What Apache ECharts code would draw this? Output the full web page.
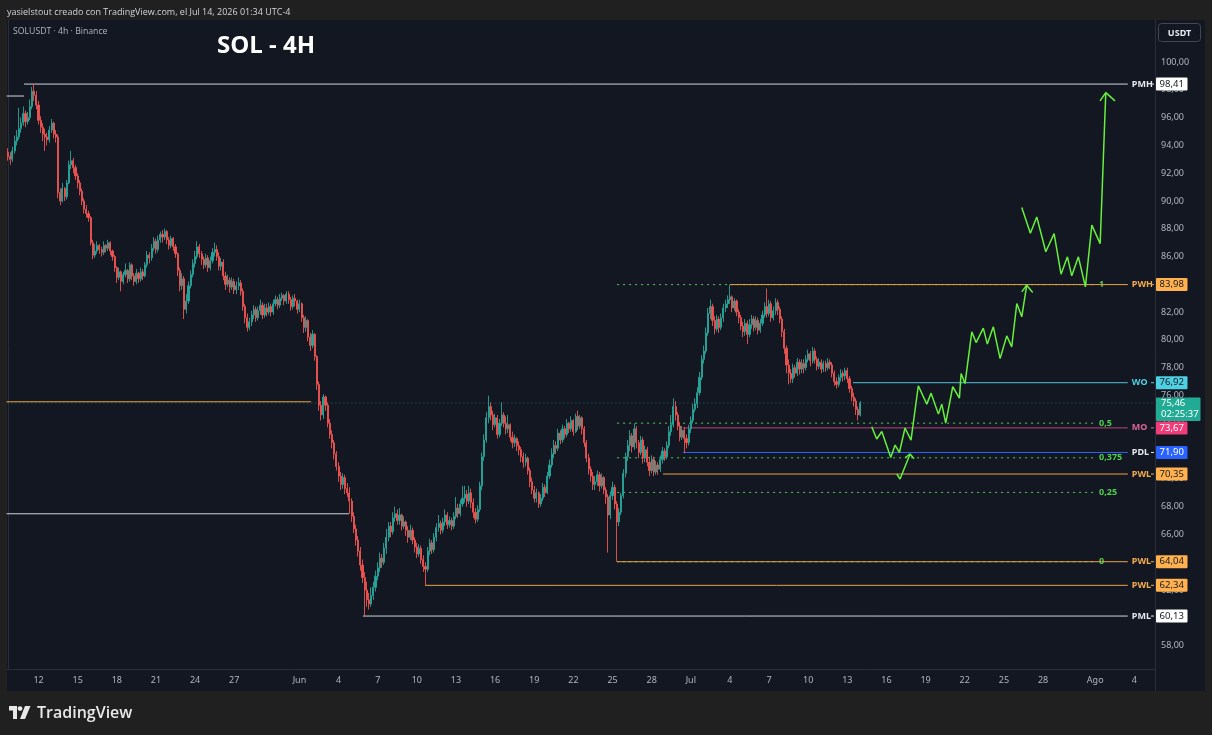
<!DOCTYPE html>
<html>
<head>
<meta charset="utf-8">
<script src="https://cdn.jsdelivr.net/npm/echarts@6.0.0/dist/echarts.min.js"></script>
<style>
html,body{margin:0;padding:0;width:1212px;height:735px;background:#202020;overflow:hidden;}
#panel{position:absolute;left:7px;top:20px;width:1198px;height:671px;background:#131722;}
#chart{position:absolute;left:0;top:0;width:1212px;height:735px;}
.t{position:absolute;white-space:nowrap;font-family:'Open Sans','Noto Sans',sans-serif;}
#hdr{left:7px;top:5px;font-size:9px;color:#d1d4dc;}
#sym{left:13px;top:25px;font-size:8.7px;color:#b2b5be;}
#ttl{left:217px;top:27px;font-size:24px;font-weight:700;color:#ffffff;}
#logo{left:9px;top:701px;font-size:16px;font-weight:600;color:#e8e8e8;display:flex;align-items:center;}
#logo svg{margin-right:6px;}
</style>
</head>
<body>
<div id="panel"></div>
<div id="chart"></div>
<div class="t" id="hdr">yasielstout creado con TradingView.com, el Jul 14, 2026 01:34 UTC-4</div>
<div class="t" id="sym">SOLUSDT · 4h · Binance</div>
<div class="t" id="ttl">SOL - 4H</div>
<div class="t" id="logo"><svg width="22" height="13" viewBox="0 0 22 13"><path d="M0 0h8v13h-4v-8.5h-4z" fill="#e8e8e8"/><circle cx="11" cy="2.6" r="2.4" fill="#e8e8e8"/><path d="M16 0h5.5l-5.5 13h-5z" fill="#e8e8e8"/></svg>TradingView</div>
<script>
// ---------- DATA ----------
// 4h candles, slot 0 = May 9 16:00; day 0 = May 12 00:00 (slot 14)
const firstOpen = 93.5;
const closes = [
93.2,93.0,93.6,94.3,94.6,95.2, 95.6,96.3,95.7,96.0,96.8,97.9, 97.6,96.9,95.8,95.3,94.8,94.6,
94.4,95.1,95.6,94.8,94.6,90.6, 90.0,90.9,90.3,91.3,92.6,92.9, 92.4,91.8,91.3,90.7,90.0,89.4,
89.1,88.8,87.0,86.1,86.4,86.8, 86.5,86.3,86.8,86.6,87.0,86.4, 86.0,85.2,84.5,84.9,84.2,84.7,
85.0,84.4,85.4,84.6,84.2,84.8, 84.4,84.9,84.6,85.4,86.1,85.9, 86.6,87.1,86.5,87.2,87.6,87.4,
87.8,87.2,86.8,87.3,86.7,86.2, 85.0,83.9,84.4,82.2,82.8,83.9, 84.7,85.5,86.0,86.7,86.2,85.8,
85.4,85.9,85.2,85.7,86.3,86.5, 86.0,85.3,85.6,84.6,84.0,84.3, 83.8,84.2,83.6,83.9,84.1,83.5,
82.4,81.6,80.9,81.3,81.8,82.2, 81.6,82.1,82.5,81.8,82.3,82.0, 82.4,82.0,82.6,82.9,82.5,83.0,
83.2,82.8,83.3,82.9,82.4,83.0, 82.8,82.2,82.6,81.6,80.9,81.4, 80.2,79.6,80.4,78.8,76.8,75.3,
74.6,75.9,75.3,74.0,73.2,72.6, 71.8,70.9,70.2,69.6,70.1,69.3, 69.0,68.4,67.3,66.4,65.6,64.8,
63.8,62.9,62.0,61.3,61.0,61.6, 62.2,63.0,63.6,64.3,64.0,65.0, 65.8,66.6,66.2,67.2,67.5,67.0,
67.4,66.6,66.9,66.3,65.8,66.3, 65.6,65.1,64.6,65.0,64.2,63.7, 63.5,64.8,65.4,64.9,65.8,66.5,
66.8,66.3,66.9,67.4,66.7,67.0, 66.6,67.3,67.9,67.5,68.2,68.6, 68.9,68.4,69.0,68.3,67.6,67.1,
67.8,69.5,71.6,72.8,74.4,75.2, 74.6,73.9,74.4,73.2,74.0,74.6, 74.0,73.6,73.9,73.0,72.6,72.9,
72.4,72.1,71.6,71.2,71.5,70.6, 69.8,69.2,68.6,69.0,68.2,68.6, 69.4,69.0,70.2,71.0,71.8,72.4,
72.2,73.3,72.8,73.6,73.2,74.0, 73.6,74.2,73.4,74.5,73.8,74.4, 73.6,72.6,71.5,70.7,70.2,69.6,
69.8,70.3,69.5,70.1,69.2,68.7, 67.4,68.8,69.4,68.2,66.9,67.6, 68.8,70.4,71.6,72.4,73.1,72.3,
73.6,72.6,71.9,72.8,71.5,72.1, 71.2,70.6,71.4,70.5,71.0,70.7, 71.4,72.0,71.6,72.4,73.4,73.9,
75.2,74.6,73.8,73.0,73.5,72.9, 72.6,73.6,74.2,75.0,75.4,76.2, 77.3,78.6,79.2,80.5,81.9,82.4,
81.4,80.8,81.5,80.9,81.6,82.3, 82.6,82.9,83.1,82.3,82.8,82.0, 81.6,81.0,80.6,81.2,80.4,81.1,
81.5,80.9,81.4,80.7,81.2,81.8, 82.4,81.9,82.6,81.6,82.1,82.7, 82.2,81.5,80.6,79.4,78.2,77.6,
77.2,78.0,77.6,78.4,77.9,78.3, 78.0,78.6,79.0,78.5,79.2,78.6, 78.1,78.4,77.9,78.3,78.0,78.4,
78.2,77.6,77.0,76.8,77.3,77.6, 77.4,77.8,77.2,76.5,75.9,75.6, 75.0,74.6,75.46];
const highs = [
93.8,93.5,93.9,94.7,95.1,96.7, 96.0,96.8,96.5,96.4,97.3,98.2, 98.41,97.9,97.2,96.1,95.6,95.2,
94.9,95.4,95.9,95.7,95.1,94.8, 90.9,91.3,91.0,91.5,92.9,93.6, 93.1,92.6,92.0,91.5,90.9,90.2,
89.7,89.3,88.9,87.2,86.9,87.1, 86.9,86.7,87.1,86.9,87.2,87.1, 86.5,86.1,85.3,85.2,85.0,84.9,
85.5,85.1,85.6,85.5,84.8,85.1, 84.9,85.2,85.1,85.6,86.4,86.3, 86.9,87.4,87.3,87.5,87.8,87.9,
88.0,87.9,87.4,87.5,87.4,86.9, 86.3,85.2,84.8,84.6,83.3,84.2, 85.0,85.8,86.4,87.1,86.9,86.4,
86.0,86.2,86.1,86.0,86.6,87.0, 86.8,86.3,85.9,85.8,84.9,84.7, 84.5,84.5,84.4,84.2,84.5,84.3,
83.7,82.6,81.9,81.6,82.1,82.5, 82.4,82.4,82.9,82.7,82.6,82.6, 82.7,82.6,82.9,83.2,83.1,83.3,
83.4,83.3,83.5,83.5,83.1,83.2, 83.3,82.9,82.9,82.7,81.8,81.7, 81.5,80.5,80.7,80.5,78.9,77.0,
75.6,76.1,76.0,75.5,74.3,73.5, 72.8,72.0,71.2,70.5,70.4,70.3, 69.7,69.4,68.6,67.6,66.7,65.9,
65.1,64.2,63.3,62.6,61.8,62.2, 62.6,63.4,64.0,64.7,64.6,65.4, 66.4,66.9,66.9,67.6,68.0,67.8,
67.9,67.5,67.3,67.0,66.6,66.7, 66.5,65.8,65.4,65.3,65.2,64.5, 64.0,65.1,65.7,65.6,66.1,66.8,
67.4,67.0,67.2,67.8,67.6,67.3, 67.2,67.6,68.7,68.2,68.5,69.5, 69.5,69.2,69.5,69.3,68.6,67.9,
68.1,69.8,71.9,73.2,74.8,75.98, 75.5,74.9,74.7,74.6,74.3,75.5, 74.8,74.5,74.6,74.0,73.4,73.2,
73.0,72.7,72.3,71.9,71.8,71.6, 70.8,70.1,69.5,69.3,69.1,68.9, 69.7,69.6,70.5,71.4,72.2,72.8,
72.7,73.6,73.5,73.9,73.8,74.3, 74.1,74.5,74.3,74.7,74.9,74.6, 74.5,73.8,72.8,71.8,70.9,70.5,
70.2,70.6,70.5,70.4,70.2,69.4, 68.9,69.1,69.8,69.6,68.4,67.9, 69.0,70.7,71.9,72.8,73.5,73.3,
74.0,73.8,72.8,73.1,73.0,72.4, 72.3,71.6,71.7,71.6,71.3,71.2, 71.7,72.3,72.2,72.7,73.8,74.6,
75.8,75.6,74.8,74.1,73.8,73.7, 73.2,73.9,74.5,75.4,75.8,76.6, 77.7,78.9,79.6,80.9,82.3,82.9,
82.6,81.7,81.8,81.7,81.9,82.6, 82.9,83.2,83.98,83.2,83.0,82.9, 82.2,81.8,81.3,81.5,81.4,81.5,
81.8,81.7,81.7,81.6,81.5,82.1, 82.7,83.7,82.9,82.8,82.4,83.0, 82.9,82.4,81.7,80.8,79.6,78.6,
77.9,78.3,78.2,78.7,78.6,78.6, 78.6,78.9,79.3,79.2,79.5,79.4, 78.8,78.7,78.6,78.5,78.5,78.7,
78.6,78.4,77.8,77.3,77.5,77.9, 77.8,78.0,78.0,77.4,76.7,76.2, 75.8,75.2,75.6];
const lows = [
92.9,92.6,92.8,93.4,94.0,94.4, 94.9,95.4,95.3,95.5,95.8,96.6, 97.2,96.6,95.5,94.9,94.3,93.6,
94.0,94.2,94.9,94.5,94.2,90.2, 89.7,89.9,90.0,90.1,91.2,92.3, 92.0,91.5,90.9,90.4,89.7,89.1,
88.8,88.5,86.8,85.8,85.9,86.2, 86.2,86.0,86.1,86.3,86.4,86.1, 85.7,84.9,84.1,84.3,83.5,84.0,
84.5,84.1,84.2,84.3,83.9,84.0, 84.1,84.2,84.3,84.5,85.2,85.5, 85.7,86.4,86.2,86.3,87.0,87.0,
87.2,86.9,86.5,86.6,86.4,85.9, 84.6,83.5,83.6,81.5,81.9,82.6, 83.7,84.5,85.2,85.8,85.9,85.4,
85.1,85.2,84.9,85.0,85.5,86.0, 85.7,85.0,85.0,84.3,83.6,83.8, 83.4,83.6,83.3,83.3,83.6,83.2,
82.1,81.2,80.6,80.7,81.0,81.5, 81.3,81.4,81.8,81.5,81.6,81.7, 81.8,81.7,81.8,82.4,82.2,82.3,
82.8,82.5,82.6,82.6,82.1,82.2, 82.4,81.9,82.0,81.3,80.5,80.6, 79.9,79.2,79.4,78.5,76.4,74.9,
74.2,74.3,74.9,73.7,72.9,72.2, 71.4,70.6,69.8,69.2,69.3,68.9, 68.7,67.5,66.9,66.1,65.2,64.4,
63.4,62.5,60.13,60.8,60.6,60.8, 61.3,61.9,62.7,63.3,63.6,63.8, 64.6,65.5,65.8,66.0,66.9,66.7,
66.7,66.3,66.4,65.9,65.4,65.6, 65.3,64.7,64.3,64.4,63.9,63.3, 62.34,63.3,64.5,64.6,64.7,65.5,
66.2,66.0,66.1,66.6,66.4,66.5, 66.3,66.4,67.1,67.2,67.3,68.0, 68.3,68.0,68.2,67.9,67.2,66.8,
66.9,67.6,69.2,71.3,72.6,74.0, 74.2,73.5,73.7,72.9,73.0,73.8, 73.7,73.2,73.3,72.7,72.2,72.3,
72.0,71.7,71.2,70.8,70.9,70.3, 69.4,68.9,68.3,68.3,67.9,68.0, 68.4,68.7,68.9,70.0,70.8,71.5,
71.8,72.0,72.5,72.6,72.9,73.0, 73.3,73.4,73.1,73.3,73.5,73.6, 73.2,72.3,71.2,70.3,69.8,69.2,
69.2,69.5,69.1,69.3,68.9,68.2, 64.7,67.1,68.5,67.8,64.04,66.6, 67.4,68.6,70.1,71.3,72.0,71.9,
72.1,72.2,71.5,71.7,71.1,71.2, 70.9,70.2,70.4,70.2,70.3,70.3, 70.5,71.1,71.3,71.4,72.2,73.1,
73.7,74.2,73.5,72.7,72.8,71.85, 72.2,72.4,73.3,74.0,74.8,75.1, 76.0,77.1,78.3,79.0,80.3,81.5,
81.0,80.4,80.6,80.5,80.7,81.3, 82.0,82.3,82.6,82.0,82.1,81.7, 81.2,80.7,80.2,80.3,79.7,80.2,
80.8,80.6,80.7,80.4,80.5,81.0, 81.6,81.6,81.7,81.3,81.4,81.8, 81.8,81.2,80.2,79.0,77.6,76.8,
76.9,76.9,77.3,77.4,77.5,77.6, 77.6,77.8,78.4,78.1,78.3,78.3, 77.8,77.9,77.6,77.7,77.7,77.8,
77.9,77.3,76.7,76.5,76.6,77.0, 77.0,77.1,76.9,76.2,75.6,75.2, 74.6,74.2,74.5];

const slotCount = 528;       // 4h slots shown on the time axis
const daySlot0 = 14;         // slot of day 0 (May 12 00:00)
const tickDays = [0,3,6,9,12,15,20,23,26,29,32,35,38,41,44,47,50,53,56,59,62,65,68,71,74,77,81,84];
const tickLabels = ['12','15','18','21','24','27','Jun','4','7','10','13','16','19','22','25','28','Jul','4','7','10','13','16','19','22','25','28','Ago','4'];

// key levels (value, first day drawn)
const levelNames  = ['PMH','PWH','WO','MO','PDL','PWL','PWL','PWL','PML'];
const levelValues = [98.41,83.98,76.92,73.67,71.90,70.35,64.04,62.34,60.13];
const levelStartDays = [-1.11,53.0,62.43,49.4,49.4,47.87,44.35,29.63,24.87];
const levelEndDay = 83.5;
// older levels on the left
const oldLevelValues = [97.55,75.55,67.49];
const oldLevelKinds  = ['PMH','PWL','PML'];
const oldLevelStartDays = [-2.45,-2.45,-2.45];
const oldLevelEndDays = [-1.11,20.89,23.8];
// fibonacci
const fibLow = 64.04, fibHigh = 83.98;
const fibRatios = [0,0.25,0.375,0.5,1];
const fibLabels = ['0','0,25','0,375','0,5','1'];
const fibStartDay = 44.35, fibEndDay = 80.99;
// last price
const lastPrice = 75.46;
const countdown = '02:25:37';
// projection drawings [day, price]
const pathMain = [[63.87,73.75],[64.25,72.87],[64.64,73.41],[65.33,71.54],[65.66,72.43],[65.99,71.90],[66.42,73.66],[66.88,72.79],[67.44,76.70],[68.09,75.38],[68.42,76.17],[68.98,74.66],[69.24,75.38],[69.54,74.02],[70.08,76.63],[70.59,75.81],[70.72,77.58],[71.02,76.86],[71.54,80.58],[71.87,79.81],[72.42,80.85],[72.73,79.70],[73.19,80.94],[73.71,78.66],[74.22,80.29],[74.60,79.50],[74.99,82.62],[75.37,81.66],[75.75,83.94]];
const arrowMain = [[75.37,83.46],[75.75,83.94],[76.21,83.41]];
const pathUp = [[75.37,89.52],[76.03,87.68],[76.52,88.85],[77.21,86.34],[77.85,87.65],[78.38,84.73],[78.87,85.98],[79.20,84.61],[79.71,85.98],[80.25,83.82],[80.74,88.26],[81.38,86.93],[81.81,97.79]];
const arrowUp = [[81.37,97.20],[81.81,97.79],[82.52,97.20]];
const pathSmall = [[65.79,70.35],[66.04,69.99],[66.81,71.79]];
const arrowSmall = [[66.42,71.52],[66.81,71.79],[67.11,71.45]];

// ---------- STYLES ----------
const FONT = 'Noto Sans';
const levelStyle = {
  PMH:{line:'#d1d4dc', text:'#e6e8ee', tagBg:'#ffffff', tagFg:'#131722'},
  PML:{line:'#d1d4dc', text:'#e6e8ee', tagBg:'#ffffff', tagFg:'#131722'},
  PWH:{line:'#e9a545', text:'#f5ac4e', tagBg:'#ffb14e', tagFg:'#131722'},
  PWL:{line:'#e9a545', text:'#f5ac4e', tagBg:'#ffb14e', tagFg:'#131722'},
  WO:{line:'#4fc3d4', text:'#4dd0e1', tagBg:'#4dd0e1', tagFg:'#131722'},
  MO:{line:'#b8467a', text:'#d9669c', tagBg:'#f03c78', tagFg:'#ffffff'},
  PDL:{line:'#2962ff', text:'#e6e8ee', tagBg:'#2962ff', tagFg:'#ffffff'}
};
const fibColor = '#4fd04f', pathColor = '#66f03c';

const toSlot = d => daySlot0 + 6 * d;
const fmt = v => v.toFixed(2).replace('.', ',');

const candles = closes.map((c, i) => [i === 0 ? firstOpen : closes[i - 1], c, lows[i], highs[i]]);
const slots = Array.from({length: slotCount}, (_, i) => String(i));
const tickMap = new Map(tickDays.map((d, i) => [toSlot(d), tickLabels[i]]));

function hline(v, d0, d1, color, type, width, label, labelColor, z) {
  return {
    type:'line', xAxisIndex:1, yAxisIndex:0, silent:true, animation:false, symbol:'none', z: z || 3,
    data:[[toSlot(d0), v],[toSlot(d1), v]],
    lineStyle:{color:color, width:width, type:type},
    endLabel: label ? {show:true, formatter:label, color:labelColor, fontSize:9, fontWeight:'bold', fontFamily:FONT, distance:4} : {show:false}
  };
}
function poly(pts, color, width) {
  return {type:'line', xAxisIndex:1, yAxisIndex:0, silent:true, animation:false, symbol:'none', z:6,
    data: pts.map(p => [toSlot(p[0]), p[1]]), lineStyle:{color:color, width:width}};
}

const series = [];
oldLevelValues.forEach((v, i) => {
  series.push(hline(v, oldLevelStartDays[i], oldLevelEndDays[i], levelStyle[oldLevelKinds[i]].line, 'solid', 1, null, null));
});
series.push(hline(lastPrice, -3, 90, 'rgba(38,166,154,0.6)', [1,3], 1, null, null, 2));
fibRatios.forEach((r, i) => {
  const v = fibLow + r * (fibHigh - fibLow);
  series.push(hline(v, fibStartDay, fibEndDay, fibColor, [2,4], 1, fibLabels[i], fibColor, 3));
});
levelNames.forEach((n, i) => {
  const st = levelStyle[n];
  series.push(hline(levelValues[i], levelStartDays[i], levelEndDay, st.line, 'solid', 1, n, st.text, 4));
});
series.push({
  type:'candlestick', xAxisIndex:0, yAxisIndex:0, data:candles, animation:false, z:5, barWidth:1.6,
  itemStyle:{color:'#26a69a', color0:'#ef5350', borderColor:'#26a69a', borderColor0:'#ef5350', borderWidth:0.9}
});
[pathMain, arrowMain, pathUp, arrowUp, pathSmall, arrowSmall].forEach(p => series.push(poly(p, pathColor, 1.5)));

const chart = echarts.init(document.getElementById('chart'), null, {renderer:'canvas'});
chart.setOption({
  backgroundColor:'transparent',
  animation:false,
  textStyle:{fontFamily:FONT},
  grid:{left:7, right:57, top:20, bottom:66, containLabel:false},
  xAxis:[
    {type:'category', data:slots, boundaryGap:true, gridIndex:0,
     axisLine:{show:true, lineStyle:{color:'#2a2e39'}}, axisTick:{show:false}, splitLine:{show:false},
     axisLabel:{interval:(i) => tickMap.has(i), formatter:(v, i) => tickMap.get(Number(v)) || '',
       color:'#b2b5be', fontSize:9, margin:7, fontFamily:FONT}},
    {type:'value', min:-0.5, max:slotCount - 0.5, show:false, gridIndex:0}
  ],
  yAxis:[{type:'value', position:'right', min:56.32, max:103.02, splitNumber:23, gridIndex:0,
    axisLine:{show:true, lineStyle:{color:'#2a2e39'}}, axisTick:{show:false}, splitLine:{show:false},
    axisLabel:{color:'#b2b5be', fontSize:9, margin:6, fontFamily:FONT, showMinLabel:false, showMaxLabel:false,
      formatter:(v) => (v > 100.5 || Math.abs(v - Math.round(v)) > 0.001) ? '' : fmt(v)}}],
  series:series
});

// ---------- axis tags ----------
const g = [];
g.push({type:'line', shape:{x1:1155.5, y1:20, x2:1155.5, y2:691}, style:{stroke:'#2a2e39', lineWidth:1}, z:50});
g.push({type:'rect', shape:{x:1158.5, y:23.5, width:42, height:18, r:3}, style:{fill:'#131722', stroke:'#434651', lineWidth:1}, z:50});
g.push({type:'text', x:1179.5, y:33, style:{text:'USDT', fill:'#e6e8ee', font:'bold 9px "' + FONT + '"', align:'center', verticalAlign:'middle', textAlign:'center', textVerticalAlign:'middle'}, z:51});
function tag(v, bg, fg) {
  const y = chart.convertToPixel({yAxisIndex:0}, v);
  g.push({type:'rect', shape:{x:1156, y:y - 6.5, width:31.5, height:13, r:1}, style:{fill:bg}, z:60});
  g.push({type:'text', x:1171.7, y:y, style:{text:fmt(v), fill:fg, font:'9.5px "' + FONT + '"', align:'center', verticalAlign:'middle', textAlign:'center', textVerticalAlign:'middle'}, z:61});
}
levelNames.forEach((n, i) => {
  const st = levelStyle[n];
  const y = chart.convertToPixel({yAxisIndex:0}, levelValues[i]);
  g.push({type:'line', shape:{x1:1151, y1:y, x2:1154, y2:y}, style:{stroke:st.text, lineWidth:1}, z:55});
  tag(levelValues[i], st.tagBg, st.tagFg);
});
(function () {
  const y = chart.convertToPixel({yAxisIndex:0}, lastPrice);
  g.push({type:'rect', shape:{x:1156, y:y - 5.5, width:44.5, height:23.5, r:1}, style:{fill:'#22ab94'}, z:62});
  g.push({type:'text', x:1161, y:y + 0.5, style:{text:fmt(lastPrice), fill:'#ffffff', font:'9.5px "' + FONT + '"', align:'left', verticalAlign:'middle', textAlign:'left', textVerticalAlign:'middle'}, z:63});
  g.push({type:'text', x:1161, y:y + 11, style:{text:countdown, fill:'#ffffff', font:'9.5px "' + FONT + '"', align:'left', verticalAlign:'middle', textAlign:'left', textVerticalAlign:'middle'}, z:63});
})();
chart.setOption({graphic:g});
</script>
</body>
</html>
